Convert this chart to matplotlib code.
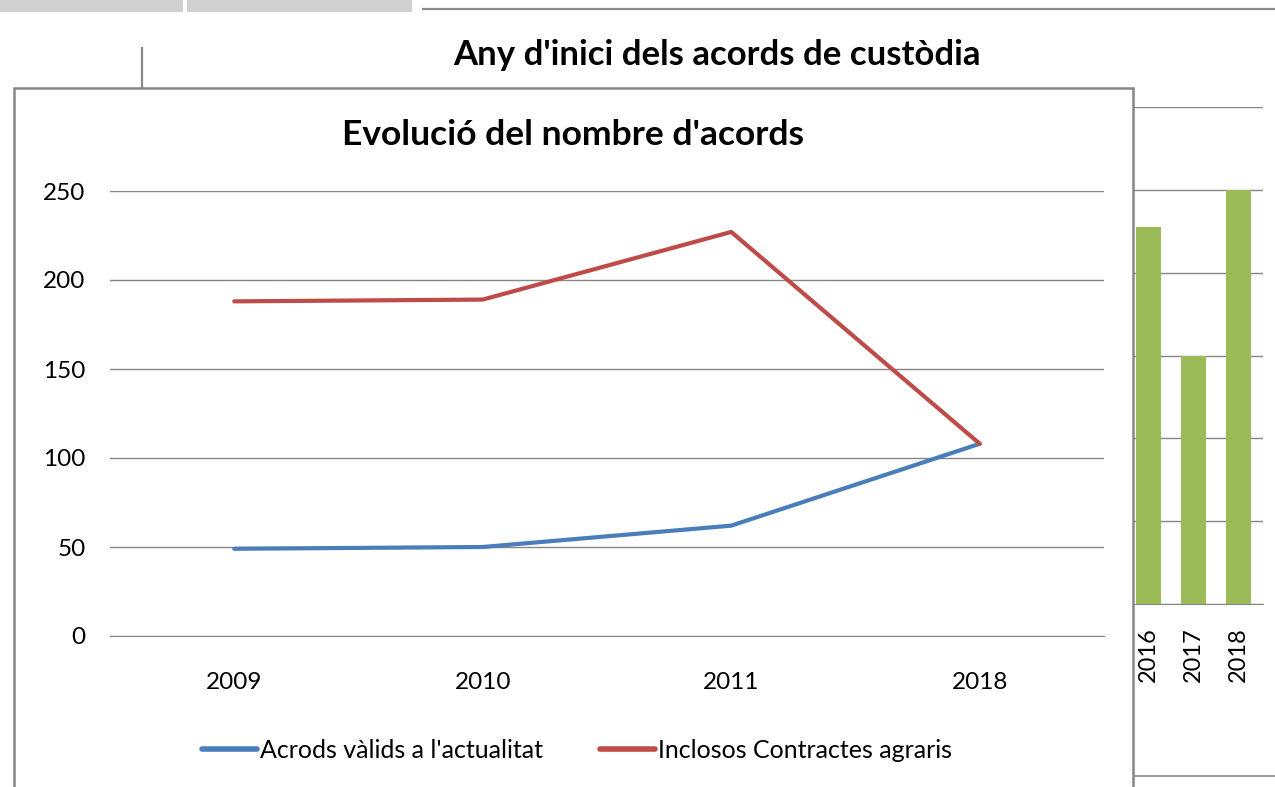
import matplotlib.pyplot as plt
from matplotlib.patches import Rectangle
from matplotlib.lines import Line2D

plt.rcParams['font.family'] = ['Lato', 'DejaVu Sans']

# main chart data
years = ["2009", "2010", "2011", "2018"]
valids = [49, 50, 62, 108]
inclosos = [188, 189, 227, 108]

# partly hidden bar chart behind it
bar_years = ["2016", "2017", "2018"]
bar_vals = [45.5, 30, 50]

W, H = 1275, 787


def fx(px):
    return px / W


def fy(py):
    return 1 - py / H


fig = plt.figure(figsize=(W / 100, H / 100), dpi=100)
fig.patch.set_facecolor("white")

# bits of the page behind
fig.patches.append(Rectangle((0, fy(12)), fx(183), 12 / H, transform=fig.transFigure,
                             facecolor="#d0d0d0", edgecolor="none", zorder=0))
fig.patches.append(Rectangle((fx(187), fy(12)), fx(225), 12 / H, transform=fig.transFigure,
                             facecolor="#d0d0d0", edgecolor="none", zorder=0))
fig.lines.append(Line2D([fx(423), 1], [fy(9), fy(9)], transform=fig.transFigure,
                        color="#8a8a8a", lw=1.6, zorder=0))
fig.lines.append(Line2D([fx(142), fx(142)], [fy(48), fy(88)], transform=fig.transFigure,
                        color="#8a8a8a", lw=1.6, zorder=0))
fig.lines.append(Line2D([fx(1134), 1], [fy(776), fy(776)], transform=fig.transFigure,
                        color="#8a8a8a", lw=1.2, zorder=0))
fig.text(fx(717), fy(55), "Any d'inici dels acords de custòdia", ha="center", va="center",
         fontsize=25, fontweight="bold", color="black")

# bar chart on the right
bx = fig.add_axes([fx(1133), fy(604), fx(130), (604 - 107) / H])
bx.set_facecolor("none")
bx.bar(range(len(bar_years)), bar_vals, width=0.556, color="#9bbb59", zorder=2)
bx.set_xlim(-0.344, 2.544)
bx.set_ylim(0, 60)
bx.set_yticks(range(0, 61, 10))
bx.yaxis.grid(True, color="#868686", lw=1.0)
bx.set_axisbelow(True)
bx.tick_params(axis="y", length=0, labelleft=False)
bx.set_xticks(range(len(bar_years)))
bx.set_xticklabels(bar_years, rotation=90, fontsize=17)
bx.tick_params(axis="x", length=0, pad=17)
for s in ["top", "right", "left"]:
    bx.spines[s].set_visible(False)
bx.spines["bottom"].set_color("#868686")

# main chart box
fig.patches.append(Rectangle((fx(14), fy(800)), fx(1133 - 14), (800 - 88) / H,
                             transform=fig.transFigure, facecolor="white",
                             edgecolor="#868686", lw=1.8, zorder=1))

ax = fig.add_axes([fx(110), fy(636), fx(994), (636 - 191) / H])
ax.set_zorder(2)
ax.set_facecolor("none")
x = range(len(years))
ax.plot(x, valids, color="#4a7ebb", lw=3.0, solid_capstyle="round",
        label="Acrods vàlids a l'actualitat")
ax.plot(x, inclosos, color="#be4b48", lw=3.0, solid_capstyle="round",
        label="Inclosos Contractes agraris")
ax.set_xlim(-0.5, 3.5)
ax.set_ylim(0, 250)
ax.set_yticks(range(0, 251, 50))
ax.yaxis.grid(True, color="#868686", lw=1.0)
ax.set_axisbelow(True)
ax.set_xticks(list(x))
ax.set_xticklabels(years)
ax.tick_params(axis="both", length=0, labelsize=17.5, colors="black")
ax.tick_params(axis="y", pad=17.5)
ax.tick_params(axis="x", pad=26)
for s in ["top", "right", "left"]:
    ax.spines[s].set_visible(False)
ax.spines["bottom"].set_color("#868686")

fig.text(fx(573), fy(135), "Evolució del nombre d'acords", ha="center", va="center",
         fontsize=25.5, fontweight="bold", color="black", zorder=3)

leg = ax.legend(loc="center", bbox_to_anchor=(fx(577), fy(750)), bbox_transform=fig.transFigure,
                ncol=2, frameon=False, fontsize=18, handlelength=2.2, handletextpad=0.12,
                columnspacing=2.3)
for h in leg.get_lines():
    h.set_linewidth(4)

fig.savefig("out.png", dpi=100)
